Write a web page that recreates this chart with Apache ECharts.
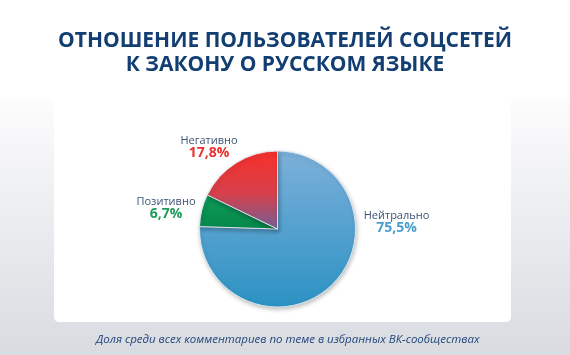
<!DOCTYPE html>
<html><head><meta charset="utf-8">
<script src="https://cdn.jsdelivr.net/npm/echarts@6/dist/echarts.min.js"></script>
<style>html,body{margin:0;padding:0;background:#fff}#c{width:570px;height:355px}</style>
</head><body><div id="c"></div>
<script>
const titleLines = ['ОТНОШЕНИЕ ПОЛЬЗОВАТЕЛЕЙ СОЦСЕТЕЙ', 'К ЗАКОНУ О РУССКОМ ЯЗЫКЕ'];
const caption = 'Доля среди всех комментариев по теме в избранных ВК-сообществах';
const categories = ['Нейтрально', 'Позитивно', 'Негативно'];
const values = [75.5, 6.7, 17.8];
const valueLabels = ['75,5%', '6,7%', '17,8%'];

const sliceColors = [
  {type:'linear',x:0,y:0,x2:0,y2:1,colorStops:[{offset:0,color:'#7db0da'},{offset:1,color:'#2b92c3'}]},
  {type:'linear',x:0,y:0,x2:0,y2:1,colorStops:[{offset:0,color:'#0d9c58'},{offset:1,color:'#06874b'}]},
  {type:'linear',x:0,y:0,x2:0,y2:1,colorStops:[{offset:0,color:'#f82f2a'},{offset:0.55,color:'#d6404c'},{offset:1,color:'#745f97'}]}
];
const valueColors = ['#4a9fcc', '#1f9a57', '#e8322f'];
const labelPos = [[396.5, 222], [166, 208], [209, 147]];

const chart = echarts.init(document.getElementById('c'), null, {renderer:'canvas'});
const titleStyle = {fontFamily:'Open Sans', fontWeight:'bold', fontSize:21, color:'#123e72'};
chart.setOption({
  animation: false,
  graphic: [
    {type:'rect', silent:true, z:-10, shape:{x:0,y:100,width:570,height:255},
     style:{fill:{type:'linear',x:0,y:0,x2:0,y2:1,colorStops:[{offset:0,color:'#fcfcfd'},{offset:1,color:'#d8dbe0'}]}}},
    {type:'rect', silent:true, z:-9, shape:{x:54,y:96,width:457,height:226,r:[0,0,5,5]}, style:{fill:'#ffffff'}}
  ],
  title: [
    {text: titleLines[0], left:'center', top:26, textStyle:titleStyle},
    {text: titleLines[1], left:'center', top:50, textStyle:titleStyle},
    {text: caption, left:91, top:329,
     textStyle:{fontFamily:'Open Sans', fontStyle:'italic', fontWeight:'normal', fontSize:11.5, color:'#23467c'}}
  ],
  series: [{
    type:'pie', center:[277.5, 229], radius:78, startAngle:90, clockwise:true,
    data: categories.map((n,i)=>({name:n, value:values[i], itemStyle:{color:sliceColors[i]},
      label:{formatter:'{n|'+n+'}\n{v|'+valueLabels[i]+'}', rich:{
        n:{fontFamily:'Open Sans', fontSize:11, color:'#3b5374', align:'center', lineHeight:12},
        v:{fontFamily:'Open Sans', fontSize:14, fontWeight:'bold', color:valueColors[i], align:'center', lineHeight:13}}}})),
    itemStyle:{borderColor:'rgba(225,235,245,0.9)', borderWidth:1, shadowBlur:4, shadowOffsetX:1, shadowOffsetY:2, shadowColor:'rgba(0,0,0,0.25)'},
    label:{show:true, position:'outside'},
    labelLine:{show:false},
    labelLayout: function(p){ const q = labelPos[p.dataIndex]; return {x:q[0], y:q[1], align:'center', verticalAlign:'middle'}; }
  }]
});
</script></body></html>
